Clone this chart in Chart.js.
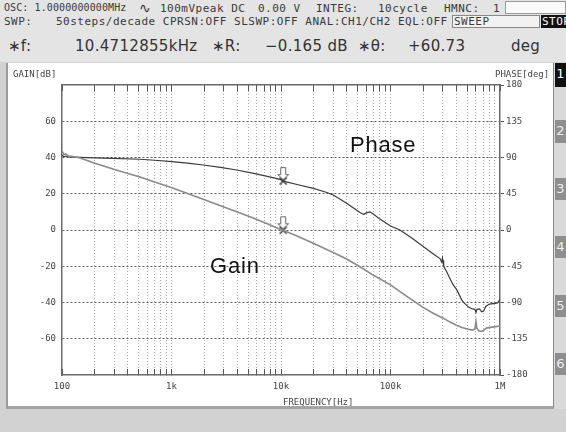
<!DOCTYPE html>
<html><head><meta charset="utf-8">
<script src="https://cdn.jsdelivr.net/npm/chart.js@4.4.1/dist/chart.umd.min.js"></script>
<style>
html,body{margin:0;padding:0}
body{width:566px;height:432px;position:relative;overflow:hidden;background:#d2d2d2}
.a{position:absolute;white-space:pre;line-height:1}
.s{font-family:"DejaVu Sans Mono",monospace;font-size:11px;color:#3a3a3a;letter-spacing:0.5px}
.b{font-family:"DejaVu Sans",sans-serif;font-size:15px;color:#333;letter-spacing:0.3px}
.m{font-family:"DejaVu Sans Mono",monospace;font-size:9px;color:#444}
.n{font-family:"Liberation Sans",Arial,sans-serif;font-size:22px;color:#111;letter-spacing:0.8px}
.tab{position:absolute;left:555px;width:11px;background:#8e8e8e;color:#eee;font-family:"DejaVu Sans",sans-serif;font-size:13px;line-height:22px;text-align:center}
#c{position:absolute;left:0;top:0}
</style></head><body>
<div class="a" style="left:0;top:0;width:566px;height:62px;background:#e4e4e4"></div>
<!-- row 1 -->
<div class="a s" style="left:4px;top:3px;font-size:10px;letter-spacing:0.1px">OSC: 1.0000000000MHz</div>
<div class="a" style="left:139px;top:1px;font-family:'DejaVu Sans';font-size:14px;color:#3a3a3a">∿</div>
<div class="a s" style="left:160px;top:3px">100mVpeak DC</div>
<div class="a s" style="left:258px;top:3px">0.00 V</div>
<div class="a s" style="left:316px;top:3px">INTEG:</div>
<div class="a s" style="left:378px;top:3px">10cycle</div>
<div class="a s" style="left:444px;top:3px">HMNC:</div>
<div class="a s" style="left:493px;top:3px">1</div>
<div class="a" style="left:505px;top:1px;width:61px;height:13px;background:#fafafa;border:1px solid #999;box-sizing:border-box"></div>
<!-- row 2 -->
<div class="a s" style="left:4px;top:16px">SWP:</div>
<div class="a s" style="left:56px;top:16px">50steps/decade CPRSN:OFF SLSWP:OFF ANAL:CH1/CH2 EQL:OFF</div>
<div class="a" style="left:452px;top:15px;width:88px;height:13px;background:#f2f2f2;border:1px solid #888;box-sizing:border-box"></div>
<div class="a s" style="left:454px;top:16px">SWEEP</div>
<div class="a" style="left:541px;top:15px;width:25px;height:13px;background:#111"></div>
<div class="a s" style="left:542px;top:16px;color:#fff">STOP</div>
<!-- row 3 -->
<div class="a b" style="left:8px;top:39px">∗f:</div>
<div class="a b" style="left:75px;top:39px">10.4712855kHz</div>
<div class="a b" style="left:212px;top:39px">∗R:</div>
<div class="a b" style="left:265px;top:39px">−0.165 dB</div>
<div class="a b" style="left:358px;top:39px">∗θ:</div>
<div class="a b" style="left:408px;top:39px">+60.73</div>
<div class="a b" style="left:511px;top:39px">deg</div>
<!-- panel -->
<div class="a" style="left:6px;top:63px;width:548px;height:346px;background:#fff;border-left:2px solid #9c9c9c;border-bottom:3px solid #a4a4a4;border-right:1px solid #888;box-sizing:border-box"></div>
<div class="a" style="left:554px;top:63px;width:12px;height:346px;background:#dadada"></div>
<div class="tab" style="top:63px;height:24px;background:#111;color:#fff">1</div>
<div class="tab" style="top:120px;height:23px">2</div>
<div class="tab" style="top:178px;height:22px">3</div>
<div class="tab" style="top:236px;height:22px">4</div>
<div class="tab" style="top:295px;height:22px">5</div>
<div class="tab" style="top:353px;height:22px">6</div>
<canvas id="c" width="566" height="432"></canvas>
<div class="a m" style="left:13px;top:70px">GAIN[dB]</div>
<div class="a m" style="left:495px;top:70px">PHASE[deg]</div>
<div class="a m" style="left:283px;top:398px">FREQUENCY[Hz]</div>
<div class="a n" style="left:350px;top:134px">Phase</div>
<div class="a n" style="left:210px;top:255px">Gain</div>
<script>
// ---- data ----
const gainFreq = [100,104,108,115,130,146,170,193,240,292,400,516,700,1010,1400,1951,2800,3940,5500,7500,9790,10471,14000,19730,28000,39800,52600,70000,100000,140000,200000,250000,300000,350000,400000,450000,500000,560000,590000,603000,615000,640000,680000,720000,760000,850000,1000000];
const gainDb = [43.5,41.6,42.0,40.8,40.4,39.7,38.4,37.1,35.3,33.7,31.2,29.2,26.5,23.3,20.2,16.9,13.4,10.1,6.8,3.4,0.4,-0.165,-3.3,-7.3,-11.6,-16.0,-20.3,-25.0,-30.3,-36.5,-42.8,-46.2,-48.5,-50.8,-52.5,-53.8,-54.6,-55.2,-54.6,-50.4,-54.2,-55.6,-56.0,-55.0,-54.0,-53.6,-53.0];
const phaseFreq = [100,104,108,115,130,146,200,292,516,700,1010,1400,1951,2800,3940,5500,7500,9790,10471,14000,19730,25000,30000,35000,40000,47000,53000,57000,61000,65000,70000,80000,100000,122000,160000,200000,250000,283000,294000,298000,302000,306000,326000,350000,369000,402000,448000,470000,519000,560000,590000,603000,615000,650000,680000,710000,740000,800000,900000,950000,1000000];
const phaseDeg = [93.0,91.0,91.8,90.6,90.4,90.2,89.6,89.0,87.8,86.6,84.8,83.0,80.7,77.8,74.5,70.5,66.5,62.9,60.73,56.5,51.7,47.5,43.5,38.0,33.0,26.5,21.5,19.5,21.5,22.5,19.5,13.5,5.0,0.0,-11.0,-20.7,-30.5,-35.5,-40.0,-34.5,-38.0,-45.0,-51.8,-60.5,-67.0,-74.0,-87.0,-90.5,-96.0,-98.0,-98.5,-102.5,-98.5,-98.0,-101.5,-100.5,-95.0,-92.0,-91.0,-90.5,-86.5];
const markerFreq = [10471.2855];
const markerGain = [-0.165];
const markerPhase = [60.73];
const xTickValues = [100,200,300,400,500,600,700,800,900,1000,2000,3000,4000,5000,6000,7000,8000,9000,10000,20000,30000,40000,50000,60000,70000,80000,90000,100000,200000,300000,400000,500000,600000,700000,800000,900000,1000000];
const xTickLabels = {100:'100',1000:'1k',10000:'10k',100000:'100k',1000000:'1M'};
const gainTicks = [-80,-60,-40,-20,0,20,40,60,80];
const gainLabels = ['','-60','-40','-20','0','20','40','60',''];
const phaseTicks = [-180,-135,-90,-45,0,45,90,135,180];

function makeMarker(){
  const c=document.createElement('canvas'); c.width=16; c.height=32;
  const g=c.getContext('2d');
  g.strokeStyle='#666'; g.lineWidth=1; g.fillStyle='#fff';
  g.beginPath();
  g.moveTo(5.5,2.5); g.lineTo(10.5,2.5); g.lineTo(10.5,9.5); g.lineTo(13.5,9.5);
  g.lineTo(8,14.5); g.lineTo(2.5,9.5); g.lineTo(5.5,9.5); g.closePath();
  g.fill(); g.stroke();
  g.strokeStyle='#444'; g.lineWidth=1.6;
  g.beginPath(); g.moveTo(4.5,12.5); g.lineTo(11.5,19.5); g.moveTo(11.5,12.5); g.lineTo(4.5,19.5); g.stroke();
  return c;
}
const mk = makeMarker();
const tickFont = {family:'DejaVu Sans Mono', size:9};
const setTicks = vals => s => { s.ticks = vals.map(v => ({value:v})); };
const edge = (lo,hi,col) => c => (c.tick && (c.tick.value===lo || c.tick.value===hi)) ? 'rgba(0,0,0,0)' : col;

new Chart(document.getElementById('c'), {
  type:'line',
  data:{datasets:[
    {data: gainFreq.map((f,i)=>({x:f,y:gainDb[i]})), xAxisID:'x', yAxisID:'y', borderColor:'#8a8a8a', borderWidth:1.6, pointRadius:0, tension:0, fill:false},
    {data: phaseFreq.map((f,i)=>({x:f,y:phaseDeg[i]})), xAxisID:'x', yAxisID:'y2', borderColor:'#3a3a3a', borderWidth:1.2, pointRadius:0, tension:0, fill:false},
    {data: markerFreq.map((f,i)=>({x:f,y:markerGain[i]})), xAxisID:'x', yAxisID:'y', showLine:false, pointStyle:mk, pointRadius:8},
    {data: markerFreq.map((f,i)=>({x:f,y:markerPhase[i]})), xAxisID:'x', yAxisID:'y2', showLine:false, pointStyle:mk, pointRadius:8}
  ]},
  options:{
    responsive:false, animation:false, devicePixelRatio:1, events:[],
    layout:{padding:{top:85,left:0,right:0,bottom:0}},
    plugins:{legend:{display:false}, tooltip:{enabled:false}},
    scales:{
      x:{type:'logarithmic', position:'bottom', min:100, max:1000000,
        afterBuildTicks:setTicks(xTickValues), afterFit:s=>{s.height=57;},
        ticks:{autoSkip:false, maxRotation:0, minRotation:0, padding:12, font:tickFont, color:'#444',
          callback:v=>xTickLabels[v]||''},
        grid:{color:edge(100,1000000,'#a8a8a8'), lineWidth:1, drawTicks:true, tickLength:-6, tickColor:'#555', tickWidth:1},
        border:{display:true, color:'#6a6a6a', width:1.5, dash:[1,2]}
      },
      x2:{type:'logarithmic', position:'top', min:100, max:1000000,
        afterBuildTicks:setTicks(xTickValues), afterFit:s=>{s.height=0;},
        ticks:{display:false},
        grid:{drawOnChartArea:false, drawTicks:true, tickLength:-6, tickColor:'#555', tickWidth:1},
        border:{display:true, color:'#6a6a6a', width:1.5}
      },
      y:{type:'linear', position:'left', min:-80, max:80,
        afterBuildTicks:setTicks(gainTicks), afterFit:s=>{s.width=62;},
        ticks:{padding:6, font:tickFont, color:'#444', callback:(v)=>gainLabels[gainTicks.indexOf(v)]},
        grid:{color:edge(-80,80,'#5a5a5a'), lineWidth:1, drawTicks:false},
        border:{display:true, color:'#6a6a6a', width:1.5, dash:[2,2]}
      },
      y2:{type:'linear', position:'right', min:-180, max:180,
        afterBuildTicks:setTicks(phaseTicks), afterFit:s=>{s.width=66;},
        ticks:{padding:2, font:tickFont, color:'#444', callback:v=>String(v)},
        grid:{drawOnChartArea:false, drawTicks:true, tickLength:4, tickColor:'#555'},
        border:{display:true, color:'#6a6a6a', width:1.5}
      }
    }
  }
});
</script>
</body></html>
